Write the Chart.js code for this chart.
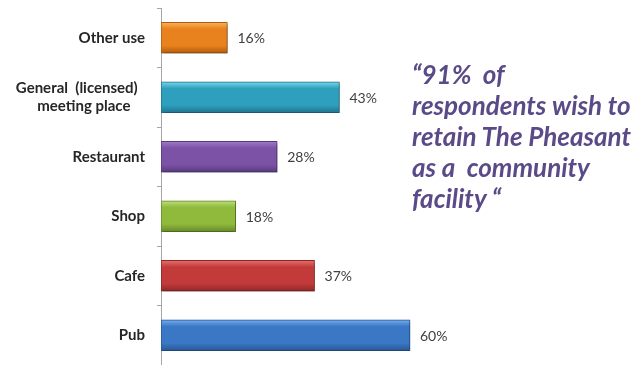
<!DOCTYPE html>
<html>
<head>
<meta charset="utf-8">
<script src="https://cdn.jsdelivr.net/npm/chart.js@4"></script>
<style>
  html, body { margin: 0; padding: 0; background: #fff; }
  #wrap { position: relative; width: 640px; height: 365px; }
  #quote {
    position: absolute; left: 412px; top: 59px;
    font-family: Lato, sans-serif; font-weight: bold; font-style: italic;
    font-size: 26px; line-height: 31px; color: #5a4b88; white-space: pre;
  }
</style>
</head>
<body>
<div id="wrap">
  <canvas id="useChart" width="640" height="365"></canvas>
  <div id="quote">“91%  of
respondents wish to
retain The Pheasant
as a  community
facility “</div>
</div>
<script>
// Survey answers, top to bottom
const categories = ["Other use", ["General  (licensed)  ", "meeting place    "], "Restaurant", "Shop", "Cafe", "Pub"];
const percentages = [16, 43, 28, 18, 37, 60];
// [light top, base, dark bottom] for each bar
const barShades = [
  ["#f9b45c", "#e8821e", "#b35c0e"],
  ["#7ad6ec", "#2f9fbe", "#1f7590"],
  ["#a17cc8", "#7b52a6", "#583a7c"],
  ["#bde07a", "#8fba3c", "#66882a"],
  ["#e8706e", "#c23b3a", "#8e2726"],
  ["#74aeec", "#3a78c6", "#285896"]
];

const BAR_H = 31;

// glossy vertical gradient for each bar, built from its band centre
const barGradient = (c) => {
  const chart = c.chart;
  const y = chart.scales.y;
  if (!y || !chart.chartArea) return barShades[c.dataIndex][1];
  const mid = y.getPixelForValue(c.dataIndex);
  const s = barShades[c.dataIndex];
  const g = chart.ctx.createLinearGradient(0, mid - BAR_H / 2, 0, mid + BAR_H / 2);
  g.addColorStop(0, s[0]);
  g.addColorStop(0.22, s[1]);
  g.addColorStop(0.75, s[1]);
  g.addColorStop(1, s[2]);
  return g;
};

// soft drop shadow under the bars
const barShadow = {
  id: "barShadow",
  beforeDatasetsDraw(chart) {
    const ctx = chart.ctx;
    ctx.save();
    ctx.shadowColor = "rgba(0,0,0,0.35)";
    ctx.shadowBlur = 3;
    ctx.shadowOffsetX = 1;
    ctx.shadowOffsetY = 2;
  },
  afterDatasetsDraw(chart) {
    chart.ctx.restore();
  }
};

// percentage text to the right of each bar
const valueLabels = {
  id: "valueLabels",
  afterDatasetsDraw(chart) {
    const ctx = chart.ctx;
    const meta = chart.getDatasetMeta(0);
    ctx.save();
    ctx.font = "14px Lato, sans-serif";
    ctx.fillStyle = "#404040";
    ctx.textAlign = "left";
    ctx.textBaseline = "middle";
    meta.data.forEach((bar, i) => {
      ctx.fillText(percentages[i] + "%", bar.x + 10, bar.y + 1);
    });
    ctx.restore();
  }
};

new Chart(document.getElementById("useChart"), {
  type: "bar",
  data: {
    labels: categories,
    datasets: [{
      data: percentages,
      backgroundColor: barGradient,
      borderColor: barShades.map((s) => s[2]),
      borderWidth: 1,
      borderSkipped: false,
      barThickness: BAR_H
    }]
  },
  options: {
    indexAxis: "y",
    responsive: false,
    animation: false,
    layout: { padding: { top: 8, right: 64, bottom: 0, left: 0 } },
    plugins: { legend: { display: false }, tooltip: { enabled: false } },
    scales: {
      x: { display: false, min: 0, max: 100 },
      y: {
        afterFit: (scale) => {
          scale.width = 161;
          scale.paddingTop = 0;
          scale.paddingBottom = 0;
        },
        border: { color: "#a6a6a6", width: 1 },
        grid: { drawOnChartArea: false, offset: true, tickLength: 4, color: "#a6a6a6" },
        ticks: {
          padding: 12,
          color: "#262626",
          font: { family: "Lato, sans-serif", weight: "bold", size: 15, lineHeight: 1.25 }
        }
      }
    }
  },
  plugins: [barShadow, valueLabels]
});
</script>
</body>
</html>
